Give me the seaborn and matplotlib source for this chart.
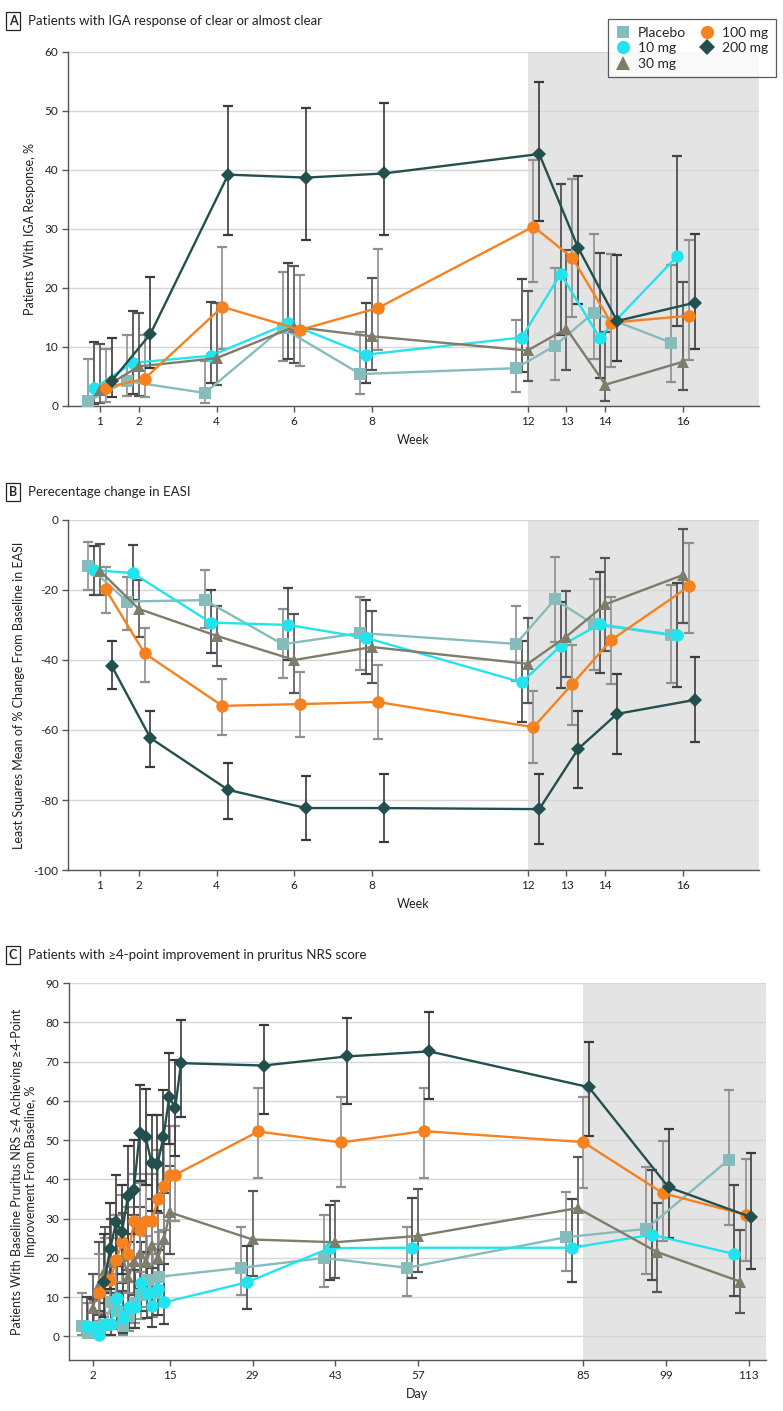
import numpy as np
import matplotlib
matplotlib.use('Agg')
import matplotlib.pyplot as plt
from matplotlib.lines import Line2D
import seaborn as sns

GROUPS = ['Placebo', '10 mg', '30 mg', '100 mg', '200 mg']

# ---- Panel A: IGA response (%) by week ----
WEEKS = [1, 2, 4, 6, 8, 12, 13, 14, 16]
IGA_MEAN = {
    'Placebo': [0.8, 4.2, 2.2, 13.2, 5.4, 6.4, 10.2, 15.8, 10.7],
    '10 mg': [3.0, 7.3, 8.5, 14.0, 8.7, 11.6, 22.4, 11.6, 25.4],
    '30 mg': [2.7, 6.7, 8.1, 13.4, 11.8, 9.4, 13.1, 3.6, 7.5],
    '100 mg': [3.1, 4.6, 16.8, 12.9, 16.6, 30.4, 25.1, 14.1, 15.3],
    '200 mg': [4.2, 12.2, 39.2, 38.7, 39.4, 42.7, 26.8, 14.4, 17.5],
}
IGA_LO = {
    'Placebo': [0.0, 1.7, 0.5, 7.6, 2.0, 2.4, 4.4, 8.0, 4.1],
    '10 mg': [0.3, 2.0, 3.9, 7.9, 3.9, 5.7, 12.1, 4.7, 13.6],
    '30 mg': [0.5, 1.7, 3.6, 7.3, 6.1, 4.3, 6.1, 0.9, 2.7],
    '100 mg': [0.7, 1.6, 9.7, 6.8, 9.5, 21.0, 15.1, 6.6, 7.8],
    '200 mg': [1.6, 6.5, 29.0, 28.2, 29.0, 31.4, 17.3, 7.7, 9.6],
}
IGA_HI = {
    'Placebo': [8.0, 12.0, 7.6, 22.7, 12.5, 14.5, 23.3, 29.2, 23.9],
    '10 mg': [10.9, 16.1, 17.7, 24.2, 17.5, 21.5, 37.7, 26.0, 42.3],
    '30 mg': [10.5, 15.8, 17.4, 23.8, 21.7, 19.5, 26.5, 12.5, 21.0],
    '100 mg': [9.7, 12.1, 27.0, 22.2, 26.6, 41.7, 38.5, 25.7, 28.2],
    '200 mg': [11.6, 21.9, 50.8, 50.5, 51.3, 54.9, 39.0, 25.5, 29.2],
}

# ---- Panel B: % change in EASI by week ----
EASI_MEAN = {
    'Placebo': [-13.1, -23.3, -22.9, -35.5, -32.3, -35.4, -22.7, -29.8, -32.9],
    '10 mg': [-14.3, -15.2, -29.3, -30.0, -33.7, -46.4, -36.0, -29.8, -33.0],
    '30 mg': [-14.5, -25.4, -33.1, -40.0, -36.3, -41.1, -33.3, -24.1, -15.7],
    '100 mg': [-19.8, -38.1, -53.1, -52.6, -52.0, -59.2, -46.9, -34.3, -19.0],
    '200 mg': [-41.6, -62.3, -77.1, -82.3, -82.3, -82.6, -65.4, -55.4, -51.4],
}
EASI_LO = {
    'Placebo': [-20.0, -31.4, -30.9, -45.1, -43.0, -46.0, -35.0, -43.0, -46.5],
    '10 mg': [-21.4, -23.0, -38.1, -40.0, -44.0, -57.6, -48.0, -43.8, -47.6],
    '30 mg': [-21.4, -33.5, -41.6, -49.5, -46.5, -52.4, -45.0, -37.3, -29.5],
    '100 mg': [-26.5, -46.2, -61.5, -62.0, -62.5, -69.5, -58.6, -46.9, -32.2],
    '200 mg': [-48.4, -70.5, -85.5, -91.5, -92.0, -92.5, -76.5, -67.0, -63.5],
}
EASI_HI = {
    'Placebo': [-6.2, -16.2, -14.3, -25.4, -22.0, -24.5, -10.7, -16.9, -18.6],
    '10 mg': [-7.5, -7.1, -20.0, -19.5, -23.0, -34.5, -23.5, -15.0, -17.9],
    '30 mg': [-7.0, -17.1, -24.5, -26.9, -26.0, -28.1, -20.2, -11.0, -2.7],
    '100 mg': [-13.3, -30.8, -45.5, -43.5, -41.5, -49.0, -35.7, -22.1, -6.5],
    '200 mg': [-34.6, -54.5, -69.5, -73.0, -72.5, -72.5, -54.5, -44.0, -39.2],
}

# ---- Panel C: >=4-point improvement in pruritus NRS (%) by day ----
DAYS = [2, 3, 4, 5, 6, 7, 8, 9, 10, 11, 12, 13, 14, 15, 29, 43, 57, 84, 97.5, 111.5]
DAY_TICKS = [2, 15, 29, 43, 57, 85, 99, 113]
NRS_MEAN = {
    'Placebo': [2.8, 1.0, 1.3, 2.4, 3.0, 8.7, 6.5, 2.6, 5.2, 8.5, 10.5, 14.5, 11.0, 15.2,
                17.5, 20.0, 17.5, 25.3, 27.4, 45.0],
    '10 mg': [2.8, 2.5, 0.5, 3.3, 3.3, 9.7, 4.8, 7.4, 7.4, 13.7, 11.2, 7.7, 12.0, 8.7,
              13.8, 22.5, 22.6, 22.6, 25.9, 21.0],
    '30 mg': [7.3, 13.2, 17.0, 18.9, 19.6, 20.4, 15.1, 19.2, 21.3, 18.9, 23.2, 20.0, 24.7, 31.6,
              24.7, 24.0, 25.6, 32.7, 21.5, 14.0],
    '100 mg': [11.0, 14.5, 14.5, 19.6, 24.1, 20.9, 29.3, 27.2, 29.3, 29.3, 34.9, 38.3, 41.2, 41.2,
               52.2, 49.4, 52.3, 49.5, 36.5, 31.0],
    '200 mg': [14.0, 22.3, 29.1, 26.6, 35.7, 37.4, 51.8, 50.8, 44.2, 43.8, 50.7, 61.0, 58.2, 69.6,
               69.0, 71.3, 72.6, 63.5, 38.0, 30.4],
}
NRS_LO = {
    'Placebo': [0.3, 0.0, 0.0, 0.2, 0.5, 3.5, 2.0, 0.3, 1.5, 3.5, 4.5, 7.5, 5.0, 7.8,
                10.5, 12.6, 10.2, 16.8, 15.8, 28.3],
    '10 mg': [0.0, 0.0, 0.0, 0.4, 0.4, 3.5, 0.8, 2.2, 2.2, 6.5, 4.8, 2.5, 5.5, 3.2,
              7.0, 14.5, 14.9, 13.8, 14.5, 10.3],
    '30 mg': [2.0, 5.5, 8.5, 10.0, 11.0, 11.5, 7.5, 10.5, 12.0, 10.0, 14.0, 11.0, 15.5, 21.0,
              15.5, 14.8, 16.4, 23.0, 11.3, 6.0],
    '100 mg': [4.0, 6.0, 6.0, 10.0, 14.0, 11.0, 18.5, 16.5, 18.5, 18.5, 23.5, 27.0, 29.5, 29.5,
               40.3, 38.0, 40.3, 37.8, 24.3, 19.2],
    '200 mg': [5.0, 12.0, 18.0, 16.0, 24.0, 26.0, 39.5, 38.5, 32.0, 32.0, 38.5, 49.0, 46.0, 56.0,
               56.7, 59.2, 60.5, 51.0, 25.1, 17.3],
}
NRS_HI = {
    'Placebo': [11.0, 8.5, 9.0, 10.0, 11.5, 18.5, 16.0, 11.0, 14.0, 18.0, 21.0, 25.5, 21.0, 26.5,
                28.0, 31.0, 27.9, 36.7, 43.1, 62.7],
    '10 mg': [10.0, 9.5, 6.5, 11.0, 11.0, 20.0, 13.5, 17.0, 17.0, 24.0, 21.5, 17.5, 22.0, 18.5,
              23.0, 33.5, 35.2, 35.1, 42.5, 38.7],
    '30 mg': [16.0, 24.0, 28.0, 30.0, 31.0, 31.5, 26.0, 31.0, 33.0, 30.0, 35.0, 31.5, 36.5, 43.5,
              37.0, 34.5, 37.6, 45.6, 34.0, 27.0],
    '100 mg': [21.0, 25.0, 25.0, 31.0, 36.0, 33.0, 41.5, 39.0, 41.5, 41.5, 47.5, 51.0, 53.5, 53.5,
               63.2, 61.0, 63.3, 61.0, 49.9, 45.3],
    '200 mg': [26.0, 34.0, 41.0, 38.5, 48.5, 50.0, 64.0, 63.0, 56.5, 56.5, 62.7, 72.2, 70.5, 80.5,
               79.4, 81.0, 82.5, 74.9, 52.8, 46.6],
}

# ---- styling ----
COLORS = {'Placebo': '#86bcbc', '10 mg': '#22e4ee', '30 mg': '#7e7d6c',
          '100 mg': '#f5821f', '200 mg': '#23504e'}
BAR_COLORS = {'Placebo': '#8f8f8f', '10 mg': '#454545', '30 mg': '#555555',
              '100 mg': '#8f8f8f', '200 mg': '#3a3a3a'}
MARKERS = {'Placebo': 's', '10 mg': 'o', '30 mg': '^', '100 mg': 'o', '200 mg': 'D'}
MSIZE = {'Placebo': 8, '10 mg': 9, '30 mg': 9, '100 mg': 9, '200 mg': 7.5}
WEEK_OFFSET = dict(zip(GROUPS, [-0.3, -0.15, 0.0, 0.15, 0.3]))
DAY_OFFSET = dict(zip(GROUPS, [-1.9, -0.95, 0.0, 0.95, 1.9]))

sns.set_theme(style='white')
plt.rcParams['font.family'] = ['Lato', 'DejaVu Sans']
plt.rcParams['axes.unicode_minus'] = False

fig = plt.figure(figsize=(7.83, 14.11), dpi=100)
ax_a = fig.add_axes([0.0868, 0.7123, 0.8825, 0.2509])
ax_b = fig.add_axes([0.0868, 0.3834, 0.8825, 0.2481])
ax_c = fig.add_axes([0.0881, 0.0361, 0.8902, 0.2672])


def draw_panel(ax, x, means, los, his, offsets):
    for g in GROUPS:
        xs = np.array(x, dtype=float) + offsets[g]
        y = np.array(means[g])
        err = [np.abs(y - np.array(los[g])), np.abs(np.array(his[g]) - y)]
        eb = ax.errorbar(xs, y, yerr=err, fmt='none', ecolor=BAR_COLORS[g],
                         elinewidth=1.2, capsize=3.6, capthick=1.6, zorder=2)
        for cap in eb[1]:
            cap.set_color(COLORS[g])
        sns.lineplot(x=xs, y=y, ax=ax, color=COLORS[g], marker=MARKERS[g],
                     markersize=MSIZE[g], markeredgewidth=0, linewidth=1.7,
                     errorbar=None, legend=False, clip_on=False, zorder=3)


def style_axes(ax, xlim, ylim, xticks, yticks, shade_from, xlabel, ylabel):
    ax.set_xlim(*xlim)
    ax.set_ylim(*ylim)
    ax.axvspan(shade_from, xlim[1], color='#e4e4e4', lw=0, zorder=0)
    ax.set_xticks(xticks)
    ax.set_xticklabels([str(t) for t in xticks])
    ax.set_yticks(yticks)
    ax.yaxis.grid(True, color='#d6d6d6', lw=1)
    ax.xaxis.grid(False)
    for s in ['top', 'right']:
        ax.spines[s].set_visible(False)
    for s in ['left', 'bottom']:
        ax.spines[s].set_color('#555555')
        ax.spines[s].set_linewidth(1.0)
    ax.tick_params(axis='both', which='major', length=4, width=1, color='#555555',
                   labelsize=8.5, labelcolor='#222222', direction='out', pad=3)
    ax.tick_params(bottom=True, left=True)
    ax.set_xlabel(xlabel, fontsize=9, color='#222222', labelpad=5)
    ax.set_ylabel(ylabel, fontsize=9, color='#222222', labelpad=6)


draw_panel(ax_a, WEEKS, IGA_MEAN, IGA_LO, IGA_HI, WEEK_OFFSET)
style_axes(ax_a, (0.18, 17.95), (0, 60), WEEKS, range(0, 61, 10), 12,
           'Week', 'Patients With IGA Response, %')

draw_panel(ax_b, WEEKS, EASI_MEAN, EASI_LO, EASI_HI, WEEK_OFFSET)
style_axes(ax_b, (0.18, 17.95), (-100, 0), WEEKS, range(-100, 1, 20), 12,
           'Week', 'Least Squares Mean of % Change From Baseline in EASI')

draw_panel(ax_c, DAYS, NRS_MEAN, NRS_LO, NRS_HI, DAY_OFFSET)
style_axes(ax_c, (-2.07, 115.9), (-6, 90), DAY_TICKS, range(0, 91, 10), 85,
           'Day', 'Patients With Baseline Pruritus NRS \u22654 Achieving \u22654-Point\n'
                  'Improvement From Baseline, %')

# panel titles with boxed letters
titles = [('A', 'Patients with IGA response of clear or almost clear', 0.9851),
          ('B', 'Perecentage change in EASI', 0.6513),
          ('C', 'Patients with \u22654-point improvement in pruritus NRS score', 0.3232)]
for letter, text, yy in titles:
    fig.text(0.0166, yy, letter, fontsize=9, fontweight='bold', ha='center', va='center',
             bbox=dict(boxstyle='square,pad=0.25', fc='white', ec='#222222', lw=0.9))
    fig.text(0.036, yy, text, fontsize=9.5, ha='left', va='center', color='#222222')

handles = [Line2D([], [], linestyle='none', marker=MARKERS[g], color=COLORS[g],
                  markersize=MSIZE[g] + 0.5, markeredgewidth=0, label=g) for g in GROUPS]
leg = fig.legend(handles=handles, loc='upper right', bbox_to_anchor=(0.9995, 0.9915),
                 ncol=2, frameon=True, fancybox=False, edgecolor='#333333',
                 fontsize=10, handletextpad=0.5, columnspacing=1.0, labelspacing=0.25,
                 borderpad=0.55, handlelength=1.1)
leg.get_frame().set_linewidth(0.9)

fig.savefig('out.png', dpi=100)
